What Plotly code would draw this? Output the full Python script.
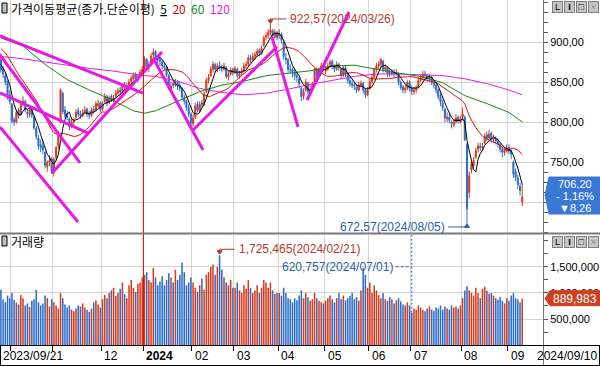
import pandas as pd
import plotly.graph_objects as go

# ======================= DATA =======================
START_DATE = "2023-09-21"
END_DATE = "2024-09-10"
KRX_HOLIDAYS = ["2023-09-28", "2023-09-29", "2023-10-02", "2023-10-03", "2023-10-09",
                "2023-12-25", "2023-12-29", "2024-01-01", "2024-02-09", "2024-02-12",
                "2024-03-01", "2024-04-10", "2024-05-01", "2024-05-06", "2024-05-15",
                "2024-06-06", "2024-08-15"]

# 19 sessions before the first visible day (only feed the 5/20-day averages)
PRE_CLOSES = [905, 910, 912, 908, 904, 900, 906, 902, 898, 895,
              893, 890, 888, 884, 880, 880, 876, 872, 866]

OPENS = [
    878, 866, 858, 850, 834,                                                     # 2023-09
    822, 803, 800, 815, 810, 824, 826, 812, 810, 816, 806, 792, 780, 772, 770,
    762, 744, 750, 754,                                                          # 2023-10
    738, 756, 770, 800, 836, 815, 810, 804, 795, 800, 806, 814, 810, 808, 812,
    816, 811, 808, 816, 815, 820, 824,                                           # 2023-11
    816, 826, 832, 824, 832, 826, 832, 836, 840, 838, 846, 844, 846, 851, 854,
    860, 853, 858, 862,                                                          # 2023-12
    868, 878, 868, 872, 884, 888, 880, 878, 875, 870, 868, 858, 842, 848, 846,
    850, 846, 842, 830, 826, 818, 810,                                           # 2024-01
    798, 806, 822, 814, 824, 822, 838, 852, 858, 866, 872, 866, 870, 868, 866,
    868, 856, 860, 866,                                                          # 2024-02
    862, 866, 858, 862, 864, 870, 872, 880, 878, 882, 884, 890, 886, 896, 906,
    908, 912, 914, 906, 912,                                                     # 2024-03
    908, 910, 900, 880, 878, 866, 866, 862, 858, 854, 842, 832, 840, 848, 838,
    842, 850, 866, 858, 866, 870,                                                # 2024-04
    864, 866, 872, 876, 870, 866, 872, 866, 858, 868, 860, 852, 848, 846, 844,
    840, 846, 848, 840, 834,                                                     # 2024-05
    842, 850, 856, 866, 870, 872, 876, 866, 868, 862, 860, 862, 860, 860, 850,
    844, 840, 842, 850,                                                          # 2024-06
    842, 838, 840, 844, 852, 856, 860, 858, 854, 856, 850, 846, 840, 832, 824,
    816, 804, 806, 800, 796, 800, 806, 800,                                      # 2024-07
    806, 806, 772, 712, 740, 746, 756, 766, 770, 768, 774, 784, 780, 786, 778,
    780, 776, 772, 766, 762, 765,                                                # 2024-08
    768, 764, 750, 738, 730, 720, 700,                                           # 2024-09
]
HIGHS = [
    886, 870, 862, 852, 840,
    824, 806, 815, 818, 825, 832, 828, 816, 818, 820, 808, 795, 784, 778, 776,
    764, 752, 758, 756,
    756, 770, 788, 842, 838, 820, 814, 806, 804, 806, 816, 818, 814, 816, 820,
    818, 814, 818, 820, 826, 828, 826,
    826, 836, 834, 833, 835, 834, 840, 843, 844, 848, 850, 849, 854, 858, 862,
    862, 860, 866, 870,
    882, 880, 876, 886, 892, 890, 884, 882, 878, 874, 870, 860, 850, 852, 854,
    852, 850, 844, 834, 828, 822, 812,
    810, 824, 826, 826, 828, 838, 855, 860, 870, 876, 874, 874, 876, 872, 874,
    870, 864, 868, 868,
    870, 868, 864, 868, 874, 876, 884, 884, 886, 888, 892, 892, 896, 908, 912,
    916, 922.57, 916, 916, 914,
    916, 912, 902, 886, 880, 872, 868, 866, 862, 856, 844, 842, 854, 850, 846,
    850, 868, 868, 868, 874, 872,
    870, 874, 878, 878, 872, 876, 874, 868, 870, 870, 862, 856, 852, 850, 846,
    850, 852, 850, 842, 844,
    854, 860, 868, 874, 876, 880, 878, 872, 870, 866, 866, 866, 866, 862, 852,
    846, 846, 852, 852,
    846, 844, 846, 856, 860, 864, 864, 860, 860, 858, 852, 848, 842, 836, 828,
    818, 812, 810, 802, 804, 810, 808, 808,
    818, 808, 774, 738, 752, 756, 768, 774, 774, 774, 786, 788, 790, 788, 784,
    782, 778, 774, 768, 768, 772,
    772, 766, 752, 742, 734, 724, 722,
]
LOWS = [
    862, 855, 846, 828, 822,
    798, 795, 798, 804, 808, 820, 812, 805, 806, 805, 790, 778, 765, 762, 760,
    742, 738, 745, 735,
    732, 752, 766, 798, 810, 805, 802, 790, 792, 796, 804, 806, 804, 806, 810,
    806, 804, 806, 810, 813, 818, 812,
    814, 824, 820, 822, 825, 824, 830, 834, 834, 836, 840, 840, 844, 848, 852,
    850, 850, 856, 860,
    866, 864, 862, 870, 880, 876, 872, 870, 866, 864, 856, 840, 838, 842, 844,
    840, 838, 828, 822, 814, 806, 795,
    794, 804, 812, 812, 818, 820, 836, 848, 856, 862, 862, 862, 864, 862, 864,
    854, 852, 858, 858,
    860, 855, 854, 858, 862, 866, 870, 874, 876, 878, 882, 882, 884, 894, 902,
    904, 908, 902, 904, 902,
    904, 898, 878, 872, 862, 860, 856, 852, 850, 842, 826, 828, 838, 834, 834,
    838, 848, 854, 856, 862, 864,
    860, 864, 868, 866, 862, 864, 864, 854, 856, 856, 848, 844, 842, 840, 836,
    838, 844, 836, 830, 832,
    840, 848, 854, 862, 866, 868, 862, 862, 856, 856, 858, 856, 858, 846, 840,
    836, 836, 840, 838,
    834, 834, 836, 842, 850, 852, 854, 850, 850, 846, 842, 836, 828, 820, 814,
    800, 800, 798, 792, 794, 798, 798, 798,
    802, 776, 672.57, 705, 736, 742, 754, 762, 764, 764, 772, 776, 778, 774, 774,
    772, 768, 762, 756, 758, 762,
    760, 754, 730, 726, 716, 708, 695,
]
CLOSES = [
    865, 860, 850, 832, 826,
    801, 800, 812, 808, 822, 826, 815, 810, 815, 808, 793, 782, 770, 768, 765,
    746, 749, 752, 738,
    753, 768, 785, 840, 813, 808, 806, 794, 800, 802, 812, 810, 808, 812, 815,
    810, 808, 815, 815, 823, 823, 816,
    823, 832, 825, 830, 828, 830, 836, 839, 838, 845, 845, 845, 850, 855, 859,
    854, 857, 862, 866,
    879, 870, 872, 882, 887, 880, 878, 876, 870, 868, 859, 843, 845, 846, 848,
    845, 842, 831, 826, 818, 810, 799,
    805, 820, 815, 822, 822, 835, 852, 856, 866, 872, 866, 870, 868, 866, 870,
    857, 860, 865, 862,
    867, 858, 860, 864, 870, 872, 880, 878, 882, 884, 888, 886, 892, 905, 908,
    912, 915, 908, 912, 906,
    910, 902, 882, 878, 866, 865, 862, 858, 856, 848, 832, 838, 850, 838, 840,
    848, 866, 858, 866, 870, 868,
    866, 870, 875, 870, 866, 872, 868, 858, 868, 860, 852, 848, 846, 845, 840,
    846, 848, 840, 834, 840,
    850, 856, 866, 870, 872, 878, 866, 868, 860, 860, 862, 860, 862, 850, 843,
    840, 842, 850, 842,
    838, 840, 842, 852, 856, 860, 858, 854, 856, 850, 846, 840, 832, 825, 818,
    805, 806, 802, 798, 800, 805, 802, 804,
    810, 778, 691.28, 733, 748, 752, 764, 770, 768, 770, 782, 780, 785, 778, 780,
    776, 772, 766, 762, 765, 768,
    764, 760, 735, 731, 722, 714.46, 706.20,
]
VOLUME_K = [  # thousand shares
    1060, 880, 820, 950, 900,
    1000, 870, 820, 780, 960, 900, 760, 800, 730, 850, 880, 1060, 820, 760, 800,
    950, 900, 740, 880,
    820, 760, 700, 1000, 900, 780, 720, 760, 680, 650, 700, 760, 740, 800, 720,
    680, 640, 700, 820, 860, 780, 720,
    880, 960, 900, 1000, 1050, 1100, 940, 1000, 1080, 1200, 980, 900, 1150, 1250, 1100,
    1020, 1180, 1200, 1300,
    1350, 1400, 1250, 1200, 1480, 1300, 1150, 1220, 1320, 1150, 1250, 1380, 1300, 1200, 1450,
    1250, 1350, 1580, 1400, 1150, 1200, 1300,
    1200, 1100, 1020, 1150, 1280, 1060, 1350, 1400, 1500, 1550, 1350, 1500, 1725.465, 1450, 1300,
    1200, 1150, 1250, 1100,
    1100, 1200, 1050, 1000, 1150, 1080, 1250, 1100, 1000, 1050, 1150, 1000, 1100, 1250, 1200,
    1100, 1200, 1050, 980, 1000,
    1000, 950, 1100, 1000, 900, 880, 820, 900, 860, 950, 1050, 900, 1000, 920, 850,
    880, 1000, 900, 850, 820, 800,
    850, 900, 950, 880, 820, 900, 1000, 880, 950, 860, 900, 940, 1000, 880, 920,
    850, 1050, 1480, 1350, 1100,
    1200, 1000, 1150, 1050, 960, 900, 1000, 880, 850, 920, 880, 800, 860, 900, 840,
    780, 760, 820, 760,
    620.757, 700, 680, 760, 720, 680, 650, 700, 740, 680, 660, 720, 700, 760, 680,
    740, 700, 680, 760, 720, 740, 700, 760,
    900, 1050, 1130, 1050, 1000, 950, 1100, 1000, 900, 1080, 1120, 1050, 980, 1000, 950,
    900, 870, 920, 850, 800, 900,
    850, 950, 1000, 900, 880, 820, 889.983,
]

# 60 / 120 day averages (session index -> value)
MA_LONG_IDX = [0, 10, 20, 30, 40, 50, 60, 65, 70, 80, 90, 100, 110, 120, 130,
               140, 150, 160, 170, 180, 190, 200, 210, 220, 230, 236]
MA60_VALS = [905, 895, 872, 853, 840, 828, 814, 811, 814, 826, 838, 846, 851, 858, 861,
             864, 870, 871, 866, 861, 857, 849, 833, 823, 812, 800]
MA120_VALS = [882, 879, 875, 871, 867, 864, 860, 858, 857, 851, 842, 837, 834, 836, 841,
              847, 852, 857, 860, 860, 859, 858, 854, 848, 840, 834]

# hand-drawn trend lines (session index, price) -> (session index, price)
TREND_I0 = [-0.4, -0.4, -0.4, 23.1, -0.4, 68.9, 87.0, 122.7, 138.6]
TREND_P0 = [907.5, 883.8, 836.3, 736.0, 793.8, 880.0, 790.0, 906.0, 827.5]
TREND_I1 = [64.3, 35.8, 39.4, 72.9, 34.9, 91.5, 125.0, 134.5, 157.6]
TREND_P1 = [836.0, 748.8, 786.0, 887.5, 675.0, 765.0, 894.0, 794.0, 937.5]

# ======================= STYLE =======================
UP, DOWN = "#d63c1e", "#2d6ecb"
GRID = "#d4d4d4"
NUM_FONT = "Liberation Sans, Arial, sans-serif"
KR_FONT = "Noto Sans CJK KR, sans-serif"
HI_COL, LO_COL = "#b3392b", "#2c5fa8"
PLOT_W, PLOT_H = 543.0, 345.0
PRICE_RANGE = [661.25, 952.5]
VOL_RANGE = [0, 2115000]
X_RANGE = [-0.41, 245.4]

# ======================= PREP =======================
dates = [d for d in pd.bdate_range(START_DATE, END_DATE) if d.strftime("%Y-%m-%d") not in KRX_HOLIDAYS]
n = len(dates)
assert n == len(CLOSES) == len(OPENS) == len(HIGHS) == len(LOWS) == len(VOLUME_K), (n, len(CLOSES))
idx = list(range(n))
volume = [round(v * 1000) for v in VOLUME_K]
colors = [UP if c > o else DOWN for o, c in zip(OPENS, CLOSES)]

s = pd.Series(PRE_CLOSES + CLOSES, dtype=float)
ma5 = s.rolling(5).mean().iloc[len(PRE_CLOSES):].tolist()
ma20 = s.rolling(20).mean().iloc[len(PRE_CLOSES):].tolist()

month_starts = [i for i in range(1, n) if dates[i].month != dates[i - 1].month]
tickvals = [i - 0.5 for i in month_starts]


def px_x(x):
    return x / PLOT_W


def px_y(y):
    return 1 - y / PLOT_H


def kprice(v):
    return f"{v:.2f}".replace(".", ",")


# ======================= FIGURE =======================
fig = go.Figure()
fig.add_trace(go.Bar(x=idx, y=volume, marker=dict(color=colors, line=dict(width=0)),
                     xaxis="x", yaxis="y", hoverinfo="skip"))
fig.add_trace(go.Candlestick(
    x=idx, open=OPENS, high=HIGHS, low=LOWS, close=CLOSES,
    increasing=dict(line=dict(color=UP, width=1), fillcolor=UP),
    decreasing=dict(line=dict(color=DOWN, width=1), fillcolor=DOWN),
    whiskerwidth=0, xaxis="x2", yaxis="y2", hoverinfo="skip"))
fig.add_trace(go.Scatter(x=MA_LONG_IDX, y=MA120_VALS, mode="lines", line=dict(color="#e31ee3", width=1),
                         xaxis="x2", yaxis="y2", hoverinfo="skip"))
fig.add_trace(go.Scatter(x=MA_LONG_IDX, y=MA60_VALS, mode="lines", line=dict(color="#138a13", width=1),
                         xaxis="x2", yaxis="y2", hoverinfo="skip"))
fig.add_trace(go.Scatter(x=idx, y=ma20, mode="lines", line=dict(color="#e01010", width=1),
                         xaxis="x2", yaxis="y2", hoverinfo="skip"))
fig.add_trace(go.Scatter(x=idx, y=ma5, mode="lines", line=dict(color="black", width=1),
                         xaxis="x2", yaxis="y2", hoverinfo="skip"))

tx, ty = [], []
for a, pa, b, pb in zip(TREND_I0, TREND_P0, TREND_I1, TREND_P1):
    tx += [a, b, None]
    ty += [pa, pb, None]
fig.add_trace(go.Scatter(x=tx, y=ty, mode="lines", line=dict(color="#e619e6", width=3),
                         xaxis="x2", yaxis="y2", hoverinfo="skip"))

# ----- key values -----
i_hi = max(idx, key=lambda i: HIGHS[i])
i_lo = min(idx, key=lambda i: LOWS[i])
i_vmax = max(idx, key=lambda i: volume[i])
i_vmin = min(idx, key=lambda i: volume[i])
last, prev = CLOSES[-1], CLOSES[-2]
chg = last - prev
pct = chg / prev * 100
year_idx = next(i for i in month_starts if dates[i].month == 1)

shapes = []
annots = []

# year divider
shapes.append(dict(type="line", xref="x", yref="paper", x0=year_idx - 0.5, x1=year_idx - 0.5, y0=0, y1=1,
                   line=dict(color="#e00000", width=1)))

# high marker
shapes.append(dict(type="path", xref="x2", yref="y2", xsizemode="pixel", ysizemode="pixel",
                   xanchor=i_hi, yanchor=HIGHS[i_hi], path="M 16,5 L 0,5 L 0,2",
                   line=dict(color=HI_COL, width=1)))
shapes.append(dict(type="path", xref="x2", yref="y2", xsizemode="pixel", ysizemode="pixel",
                   xanchor=i_hi, yanchor=HIGHS[i_hi], path="M -2.5,4 L 2.5,4 L 0,0.5 Z",
                   fillcolor=HI_COL, line=dict(color=HI_COL, width=1)))
annots.append(dict(xref="x2", yref="y2", x=i_hi, y=HIGHS[i_hi], xshift=18, yshift=5,
                   xanchor="left", yanchor="middle", showarrow=False,
                   text=f"{kprice(HIGHS[i_hi])}({dates[i_hi]:%Y/%m/%d})",
                   font=dict(family=NUM_FONT, size=12, color=HI_COL)))

# low marker
shapes.append(dict(type="path", xref="x2", yref="y2", xsizemode="pixel", ysizemode="pixel",
                   xanchor=i_lo, yanchor=LOWS[i_lo], path="M -19,-3 L 0,-3 L 0,-1",
                   line=dict(color=LO_COL, width=1)))
shapes.append(dict(type="path", xref="x2", yref="y2", xsizemode="pixel", ysizemode="pixel",
                   xanchor=i_lo, yanchor=LOWS[i_lo], path="M -2.5,-3.5 L 2.5,-3.5 L 0,0 Z",
                   fillcolor=LO_COL, line=dict(color=LO_COL, width=1)))
annots.append(dict(xref="x2", yref="y2", x=i_lo, y=LOWS[i_lo], xshift=-20, yshift=-3,
                   xanchor="right", yanchor="middle", showarrow=False,
                   text=f"{kprice(LOWS[i_lo])}({dates[i_lo]:%Y/%m/%d})",
                   font=dict(family=NUM_FONT, size=12, color=LO_COL)))

# volume max marker
shapes.append(dict(type="path", xref="x", yref="y", xsizemode="pixel", ysizemode="pixel",
                   xanchor=i_vmax, yanchor=volume[i_vmax], path="M 15,6 L 0,6 L 0,3",
                   line=dict(color=HI_COL, width=1)))
shapes.append(dict(type="path", xref="x", yref="y", xsizemode="pixel", ysizemode="pixel",
                   xanchor=i_vmax, yanchor=volume[i_vmax], path="M -2.5,4.5 L 2.5,4.5 L 0,1 Z",
                   fillcolor=HI_COL, line=dict(color=HI_COL, width=1)))
annots.append(dict(xref="x", yref="y", x=i_vmax, y=volume[i_vmax], xshift=17, yshift=6,
                   xanchor="left", yanchor="middle", showarrow=False,
                   text=f"{volume[i_vmax]:,}({dates[i_vmax]:%Y/%m/%d})",
                   font=dict(family=NUM_FONT, size=12, color=HI_COL)))

# volume min marker
shapes.append(dict(type="line", xref="x", yref="y", x0=i_vmin, x1=i_vmin, y0=volume[i_vmin], y1=VOL_RANGE[1],
                   line=dict(color=LO_COL, width=1, dash="2px,2px")))
shapes.append(dict(type="line", xref="x", yref="y", xsizemode="pixel", ysizemode="pixel",
                   xanchor=i_vmin, yanchor=volume[i_vmin], x0=-16, x1=0, y0=46, y1=46,
                   line=dict(color=LO_COL, width=1, dash="3px,2px")))
annots.append(dict(xref="x", yref="y", x=i_vmin, y=volume[i_vmin], xshift=-17, yshift=46,
                   xanchor="right", yanchor="middle", showarrow=False,
                   text=f"{volume[i_vmin]:,}({dates[i_vmin]:%Y/%m/%d})",
                   font=dict(family=NUM_FONT, size=12, color=LO_COL)))

# last price box
shapes.append(dict(type="path", xref="paper", yref="y2", xsizemode="pixel", ysizemode="pixel",
                   xanchor=1, yanchor=last, path="M 2,2 L 6,20 L 57,20 L 57,-17 L 6,-17 Z",
                   fillcolor="#3b78d6", line=dict(color="#3b78d6", width=1)))
sign = "-" if chg < 0 else "+"
tri = "▼" if chg < 0 else "▲"
for txt, dy in [(kprice(last), 14), (f"{sign} {kprice(abs(pct))}%", 2), (f"{tri}{kprice(abs(chg))}", -10)]:
    annots.append(dict(xref="paper", yref="y2", x=1, y=last, xshift=32, yshift=dy, xanchor="center",
                       yanchor="middle", showarrow=False, text=txt, height=11, borderpad=0,
                       font=dict(family=NUM_FONT, size=11, color="white")))

# last volume box
shapes.append(dict(type="path", xref="paper", yref="y", xsizemode="pixel", ysizemode="pixel",
                   xanchor=1, yanchor=volume[-1], path="M 2,0 L 7,8 L 57,8 L 57,-7 L 7,-7 Z",
                   fillcolor="#cf3f1f", line=dict(color="#cf3f1f", width=1)))
annots.append(dict(xref="paper", yref="y", x=1, y=volume[-1], xshift=32, yshift=0, xanchor="center",
                   yanchor="middle", showarrow=False, text=f"{volume[-1]:,}",
                   font=dict(family=NUM_FONT, size=12, color="white")))

# frame lines
shapes += [
    dict(type="line", xref="paper", yref="paper", x0=0, x1=px_x(600), y0=px_y(233.5), y1=px_y(233.5),
         line=dict(color="#7a7a7a", width=2)),
    dict(type="line", xref="paper", yref="paper", x0=px_x(543.5), x1=px_x(543.5), y0=px_y(0), y1=px_y(366),
         line=dict(color="#777777", width=1)),
    dict(type="line", xref="paper", yref="paper", x0=0, x1=px_x(600), y0=px_y(345.5), y1=px_y(345.5),
         line=dict(color="black", width=1)),
    dict(type="rect", xref="paper", yref="paper", x0=px_x(0.5), x1=px_x(599.5), y0=px_y(345.5), y1=px_y(365.5),
         line=dict(color="black", width=1)),
]
# panel icons
for top in (3, 236):
    shapes.append(dict(type="rect", xref="paper", yref="paper", x0=px_x(2), x1=px_x(7),
                       y0=px_y(top), y1=px_y(top + 10), fillcolor="#bdbdbd", line=dict(color="black", width=1)))

# panel titles
annots.append(dict(xref="paper", yref="paper", x=px_x(9), y=px_y(8), xanchor="left", yanchor="middle",
                   showarrow=False, font=dict(family=KR_FONT, size=12, color="black"),
                   text="가격이동평균(종가.단순이평)  <u>5</u>  <span style='color:#e00000'>20</span>  "
                        "<span style='color:#138a13'>60</span>  <span style='color:#e31ee3'>120</span>"))
annots.append(dict(xref="paper", yref="paper", x=px_x(9), y=px_y(241), xanchor="left", yanchor="middle",
                   showarrow=False, text="거래량", font=dict(family=KR_FONT, size=12, color="black")))

# window buttons
for top in (7, 242):
    for k, (lab, col) in enumerate([("L", "black"), ("<b>I</b>", "black"), ("□", "black"), ("×", "#888888")]):
        annots.append(dict(xref="paper", yref="paper", x=px_x(557 + 12 * k), y=px_y(top), xanchor="center",
                           yanchor="middle", showarrow=False, text=lab, width=9, height=10,
                           bgcolor="#c6c6c6", bordercolor="#7f7f7f", borderwidth=1, borderpad=0,
                           font=dict(family=NUM_FONT, size=9, color=col)))

# date labels
label_y = px_y(356)
annots.append(dict(xref="paper", yref="paper", x=px_x(1), y=label_y, xanchor="left", yanchor="middle",
                   showarrow=False, text=dates[0].strftime("%Y/%m/%d"), font=dict(family=NUM_FONT, size=12)))
annots.append(dict(xref="paper", yref="paper", x=px_x(599), y=label_y, xanchor="right", yanchor="middle",
                   showarrow=False, text=dates[-1].strftime("%Y/%m/%d"), font=dict(family=NUM_FONT, size=12)))
for i in month_starts:
    if i < 30:
        continue
    lab = f"<b>{dates[i].year}</b>" if dates[i].month == 1 else f"{dates[i].month:02d}"
    annots.append(dict(xref="x", yref="paper", x=i - 0.5, y=label_y, xshift=1, xanchor="left",
                       yanchor="middle", showarrow=False, text=lab, font=dict(family=NUM_FONT, size=12)))

common_x = dict(range=X_RANGE, showgrid=True, gridcolor=GRID, gridwidth=1, zeroline=False, showline=False,
                tickmode="array", tickvals=tickvals, rangeslider=dict(visible=False), fixedrange=True)
price_ticks = [700, 750, 800, 850, 900]
price_labels = ["" if v < 750 else kprice(v) for v in price_ticks]  # 700 sits under the last-price box
vol_ticks = [500000, 1000000, 1500000]

fig.update_layout(
    width=600, height=366, margin=dict(l=0, r=57, t=0, b=21, pad=0),
    paper_bgcolor="white", plot_bgcolor="white", showlegend=False, bargap=0.3,
    font=dict(family=NUM_FONT, size=12, color="black"), hovermode=False,
    xaxis=dict(**common_x, domain=[0, 1], anchor="y", ticks="outside", ticklen=5, tickcolor="black",
               tickwidth=1, showticklabels=False),
    xaxis2=dict(**common_x, domain=[0, 1], anchor="y2", matches="x", ticks="", showticklabels=False),
    yaxis=dict(domain=[0, 110 / 345], range=VOL_RANGE, side="right", anchor="x",
               tickmode="array", tickvals=vol_ticks, ticktext=[f"{v:,}" for v in vol_ticks],
               ticks="outside", ticklen=4, tickcolor="#555555", showgrid=True, gridcolor=GRID,
               zeroline=False, showline=False, tickfont=dict(family=NUM_FONT, size=11, color="black"),
               minor=dict(tickmode="linear", tick0=0, dtick=250000, ticks="outside", ticklen=4,
                          tickcolor="#555555", showgrid=False), fixedrange=True),
    yaxis2=dict(domain=[1 - 233 / 345, 1], range=PRICE_RANGE, side="right", anchor="x2",
                tickmode="array", tickvals=price_ticks, ticktext=price_labels,
                ticks="outside", ticklen=4, tickcolor="#555555", showgrid=True, gridcolor=GRID,
                zeroline=False, showline=False, tickfont=dict(family=NUM_FONT, size=11, color="black"),
                minor=dict(tickmode="linear", tick0=700, dtick=12.5, ticks="outside", ticklen=4,
                           tickcolor="#555555", showgrid=False), fixedrange=True),
    shapes=shapes, annotations=annots,
)

fig.write_html("out.html", config={"displayModeBar": False, "staticPlot": True},
               post_script="document.body.style.margin='0';")
